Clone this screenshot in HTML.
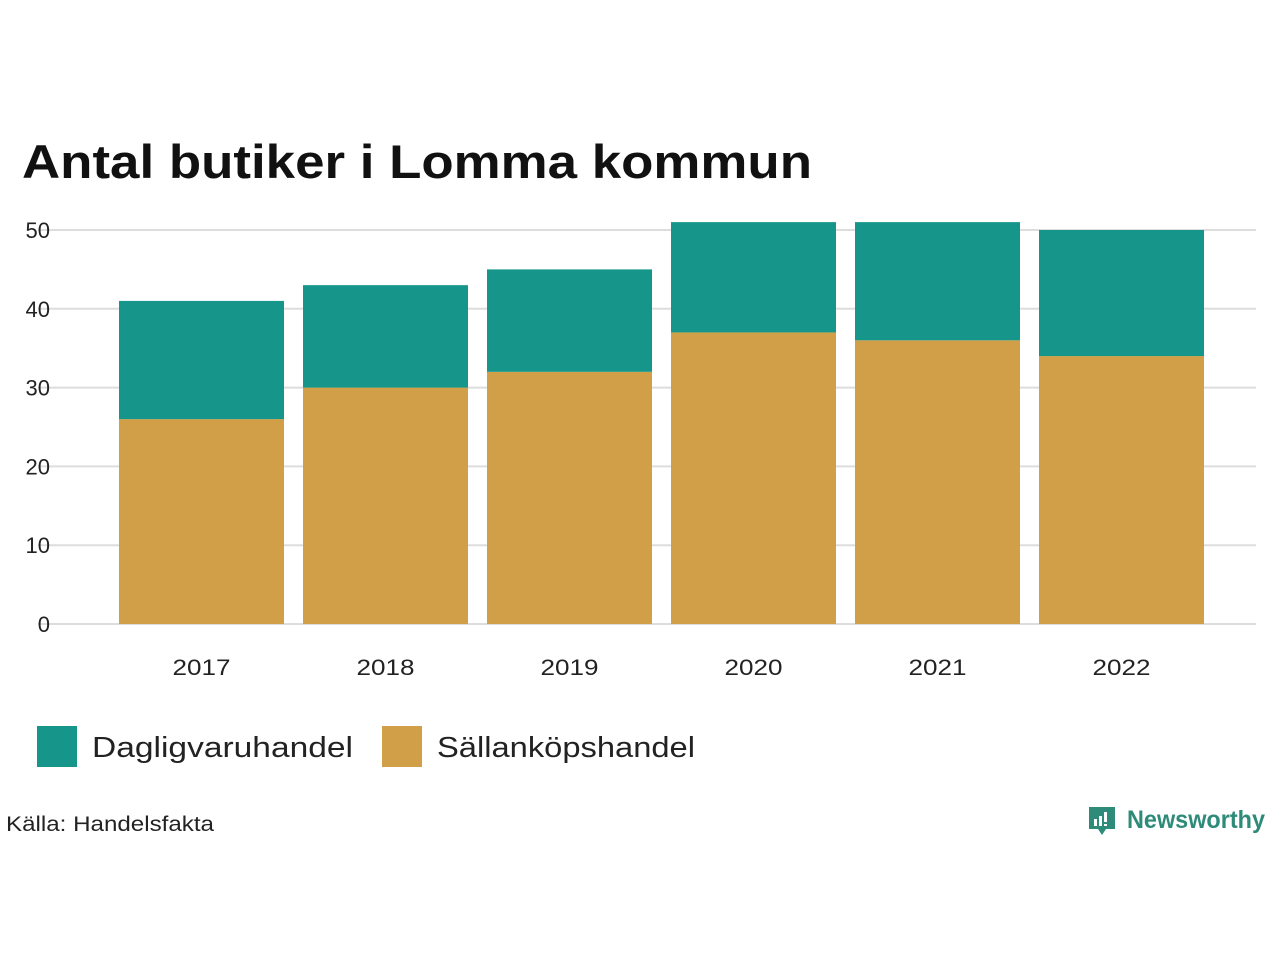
<!DOCTYPE html>
<html><head><meta charset="utf-8"><style>
body{margin:0;width:1280px;height:960px;background:#fff;font-family:"Liberation Sans",sans-serif;overflow:hidden}
</style></head><body>
<svg width="1280" height="960">
<text x="22" y="178" font-size="47" font-weight="bold" fill="#111" textLength="790" lengthAdjust="spacingAndGlyphs">Antal butiker i Lomma kommun</text>
<g id="grid"></g><g id="bars"></g><g id="xl"></g>
<g>
<rect x="37" y="726" width="40" height="41" fill="#16968a"/>
<text x="92" y="757" font-size="29" fill="#222" textLength="261" lengthAdjust="spacingAndGlyphs">Dagligvaruhandel</text>
<rect x="382" y="726" width="40" height="41" fill="#d19f48"/>
<text x="437" y="757" font-size="29" fill="#222" textLength="258" lengthAdjust="spacingAndGlyphs">Sällanköpshandel</text>
</g>
<text x="6" y="831" font-size="21" fill="#222" textLength="208" lengthAdjust="spacingAndGlyphs">Källa: Handelsfakta</text>
<g>
<path d="M1089 807h26v22h-9l-4 6-4-6h-9z" fill="#2e8b7a"/>
<rect x="1094" y="819" width="3" height="7" fill="#fff"/><rect x="1099" y="816" width="3" height="10" fill="#fff"/><rect x="1104" y="812" width="3" height="10" fill="#fff"/><rect x="1104" y="824" width="3" height="2" fill="#fff"/>
<text x="1127" y="828" font-size="25" font-weight="bold" fill="#2e8b7a" textLength="138" lengthAdjust="spacingAndGlyphs">Newsworthy</text>
</g>
</svg>
<script>
const years=["2017","2018","2019","2020","2021","2022"];
const sallan=[26,30,32,37,36,34];
const daglig=[15,13,13,14,15,16];
const ticks=[0,10,20,30,40,50];
const NS="http://www.w3.org/2000/svg";
const y=v=>624-v*7.88;
const x=i=>119+i*184;
const bw=165;
function mk(t,a,p){const e=document.createElementNS(NS,t);for(const k in a)e.setAttribute(k,a[k]);p.appendChild(e);return e;}
const g=document.getElementById('grid');
ticks.forEach(t=>{
const l=mk('line',{x1:38,x2:1256,y1:y(t),y2:y(t),stroke:'#ddd','stroke-width':2},g);


const tx=mk('text',{x:50,y:y(t)+8,'font-size':22,'text-anchor':'end',fill:'#222'},g);tx.textContent=t;


});
const b=document.getElementById('bars'),xl=document.getElementById('xl');
years.forEach((yr,i)=>{
const r1=mk('rect',{x:x(i),y:y(sallan[i]),width:bw,height:y(0)-y(sallan[i]),fill:'#d19f48'},b);


const tot=sallan[i]+daglig[i];
const r2=mk('rect',{x:x(i),y:y(tot),width:bw,height:y(sallan[i])-y(tot),fill:'#16968a'},b);


const t=mk('text',{x:x(i)+bw/2,y:675,'font-size':22,'text-anchor':'middle',fill:'#222',textLength:58,lengthAdjust:'spacingAndGlyphs'},xl);t.textContent=yr;


});
</script>
</body></html>
